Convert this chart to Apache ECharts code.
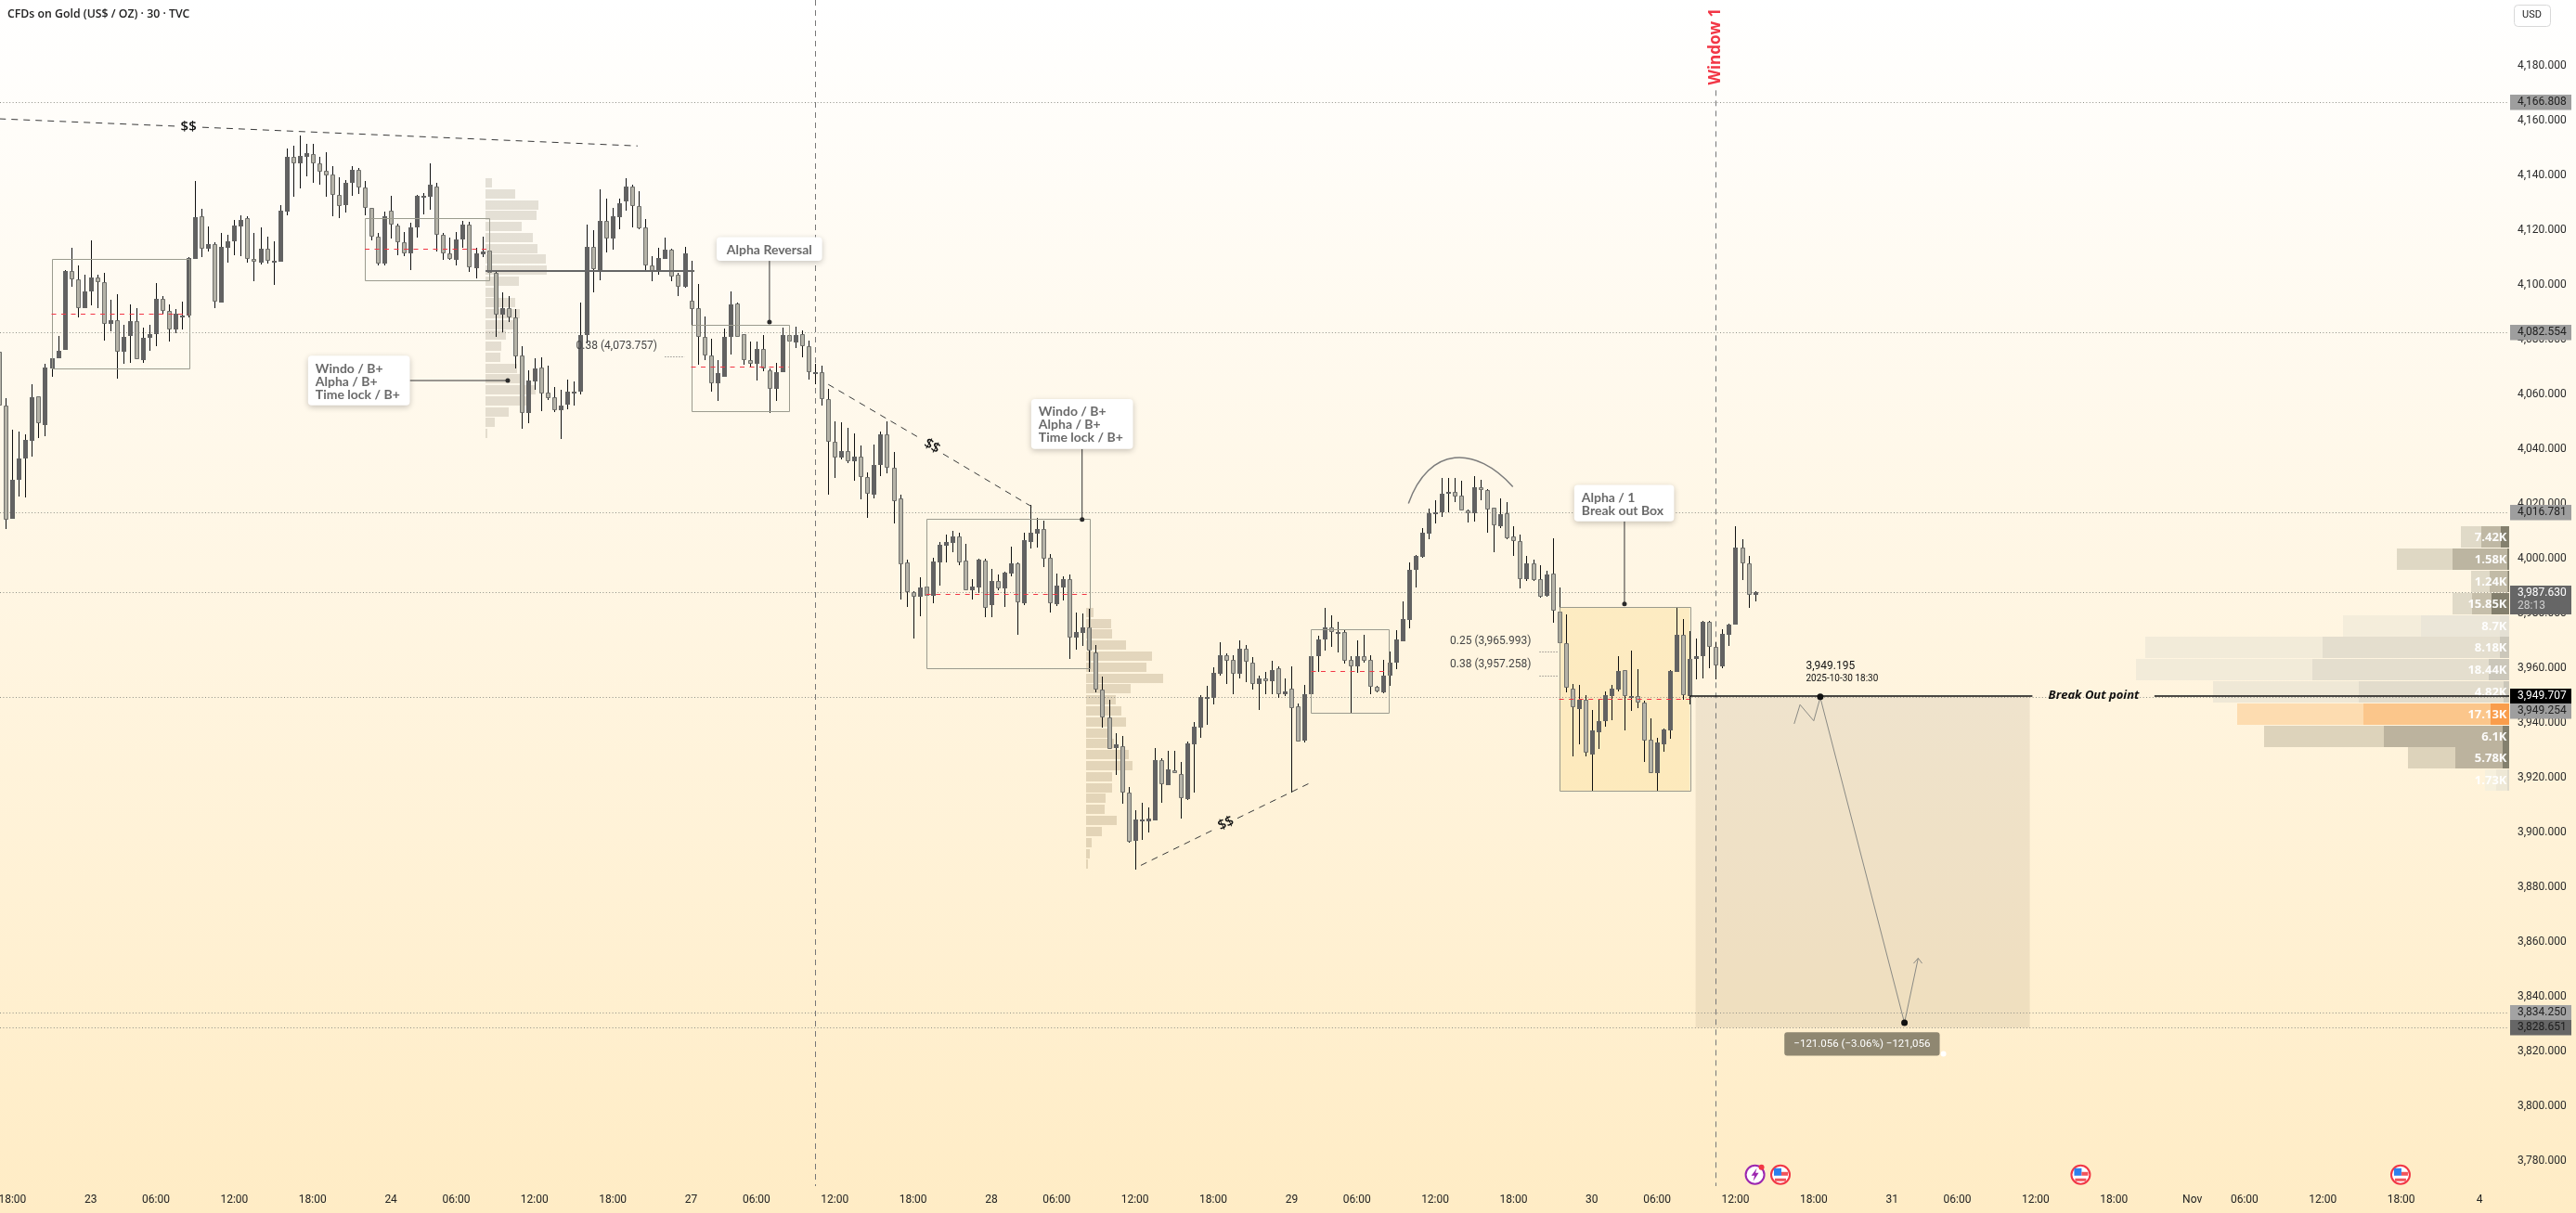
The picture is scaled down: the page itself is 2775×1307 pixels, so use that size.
<!DOCTYPE html>
<html><head><meta charset="utf-8">
<style>html,body{margin:0;padding:0;width:100%;height:100%;overflow:hidden;background:#fff}#c{width:2775px;height:1307px}</style>
<script src="https://cdn.jsdelivr.net/npm/echarts@6/dist/echarts.min.js"></script>
</head><body><div id="c"></div>
<script>
// ---- candles as [open, close, low, high], one small list per session ----
const oct22=[[4075.5,4055.7,4054.2,4077.4],[4055.7,4014.3,4010.5,4058.4],[4014.6,4028.6,4014.6,4047.1],[4028.8,4036.7,4022.6,4046.3],[4036.6,4043.2,4022.6,4045.5],[4043,4058.8,4037.3,4063.8],[4059.1,4049.3,4043.7,4059.1],[4048.8,4069.9,4044.4,4071],[4069.4,4073.3,4066.4,4078.9],[4073.2,4076,4073.2,4081.2],[4076.3,4104.9,4076.3,4105.3],[4104.9,4101.8,4099.2,4113.4],[4102.1,4091.5,4088.1,4107],[4091.5,4097.7,4091.5,4103.6]];
const oct23=[[4097.6,4102.8,4092.4,4116.2],[4102.8,4101,4091.5,4103.6],[4101.1,4085.8,4079.7,4104.5],[4085.8,4087.2,4082.9,4094.5],[4087.2,4075.6,4065.5,4096.4],[4075.6,4081.1,4071.2,4085.5],[4081.4,4086.6,4071.5,4092.8],[4086.6,4072.9,4072.7,4091.3],[4072.5,4080.5,4071.5,4084.5],[4080.7,4082.1,4075.9,4085.3],[4081.8,4094.7,4077.6,4100.6],[4095,4090.5,4089.3,4095.8],[4090.6,4083.8,4079.3,4092.7],[4083.7,4089.3,4082.3,4091.1],[4088.7,4088.9,4083.6,4093.7],[4088.7,4109.6,4088.1,4110.2],[4109.5,4124.6,4109.5,4137.9],[4124.9,4113,4110.1,4127.7],[4113.1,4115,4111.9,4121.2],[4114.7,4093.7,4091.5,4115.4],[4093.6,4113.7,4093.6,4118.9],[4113.6,4115.7,4107.8,4118.1],[4115.9,4121.6,4110.7,4123.6],[4121.4,4123.8,4110.5,4125.3],[4124.2,4109.5,4108.1,4124.9],[4109.5,4108.5,4101.4,4118.9],[4108.1,4113,4107.3,4120.9],[4113,4108.8,4107.5,4117.5],[4108.5,4108.8,4100,4115.8],[4108.5,4126.9,4108.5,4129],[4126.7,4146.7,4125.4,4149.7],[4146.6,4144.4,4132.2,4150.8],[4144.4,4147.2,4135.3,4154.5],[4146.8,4147.9,4139.5,4151.4],[4147.6,4144.4,4137,4151.4],[4144.4,4141.4,4136.5,4146.7],[4141.5,4140,4132.2,4148.4],[4140.1,4132.7,4125.1,4143.3],[4132.7,4128.8,4124.3,4139.2],[4129.2,4137.1,4126.3,4138.2],[4137.3,4142.1,4132.4,4143.4],[4142.1,4135.4,4133.1,4142.5],[4135.4,4127.9,4125.4,4137.9],[4128.2,4117.6,4116.3,4128.2],[4117.7,4107.8,4107.1,4118.9],[4107.8,4124.9,4107.1,4126.7]];
const oct24=[[4127.2,4121.8,4116.9,4132.4],[4121.5,4115.4,4110.7,4122.3],[4115.6,4111.5,4110.7,4119.4],[4111.5,4121.1,4105.4,4122.6],[4121,4132.4,4117.3,4132.8],[4132.2,4132.4,4125.7,4133.4],[4132.2,4136.4,4127.3,4144.3],[4136,4118.3,4111.9,4137.1],[4118.1,4111.3,4109.2,4118.9],[4111.3,4109.3,4109.3,4117.3],[4109.2,4116.7,4107.1,4119.4],[4116.7,4121.8,4113.3,4123.2],[4121.8,4106.4,4104.6,4122.9],[4106.1,4111.3,4102.3,4113.4],[4111.2,4112,4110.2,4117.7],[4112.3,4104.2,4101.7,4113],[4104.2,4089.2,4081,4104.7],[4089.2,4091.6,4082.7,4097.2],[4091.3,4087.9,4086.1,4095.7],[4088.1,4073.7,4069.2,4091],[4074,4053,4047.1,4077.4],[4053.3,4064.9,4049.7,4068.9],[4064.7,4069.4,4061.6,4073.1],[4069.6,4060.3,4053.9,4073.4],[4060.5,4058.6,4057.9,4070.6],[4058.8,4054.2,4053.3,4062.5],[4054.2,4056,4043.5,4061.6],[4056.3,4060.8,4054.2,4065.2],[4060.6,4060.8,4055.9,4064.7],[4060.9,4081.5,4059.9,4093.4],[4081.5,4113.8,4078.5,4121.8],[4113.7,4105.8,4097.2,4119.8],[4105.1,4123.3,4101.7,4134.8],[4123.2,4116.9,4111.9,4131.4],[4116.9,4124.9,4112.8,4128.2],[4124.7,4129.9,4120.3,4131.6],[4130.5,4136,4126.9,4138.9],[4136,4128.8,4121.2,4136.7],[4128.6,4120.7,4120.1,4134.1],[4120.8,4107.1,4105.1,4124],[4107.1,4105.1,4101.4,4110.4],[4105.1,4109.9,4103.6,4113.4],[4109.5,4112.7,4109.5,4117.2],[4112.7,4103.1,4101.6,4113.3],[4103.6,4099.1,4095.8,4104.3],[4099.2,4111.3,4098.9,4113.8]];
const oct27=[[4094.3,4091,4063.3,4108.8],[4091.5,4081.1,4070.8,4100.2],[4081.1,4074.3,4072.3,4088.4],[4074.2,4064.1,4061,4080.2],[4064.1,4067.6,4057.6,4072.4],[4066.4,4080.8,4066.4,4084],[4080.8,4092.7,4074.6,4097.5],[4093,4081.1,4081.1,4093.4],[4081.8,4072.5,4070.6,4081.9],[4072.3,4071.2,4069.7,4079.1],[4071,4076.7,4065,4079.1],[4076.7,4069.3,4068.4,4081.6],[4068.9,4062.1,4053.2,4069.5],[4062,4068.2,4057.6,4071.4],[4068.2,4081.5,4068.2,4084.2],[4081.5,4079.1,4075.9,4083.6],[4079,4081.5,4076.8,4084.7],[4081.8,4077.7,4073.4,4083.3],[4077.7,4067.9,4065.2,4079.5],[4067.9,4068.1,4063.6,4071],[4068.1,4058.1,4055.9,4070.4],[4058.1,4042.8,4023.4,4062.1],[4042.8,4036.9,4029.4,4050.1],[4036.9,4039.4,4036.2,4049.7],[4039.1,4035.4,4034.7,4047.7],[4035.6,4037.1,4028.6,4045.8],[4037.1,4029.9,4021.4,4041.2],[4029.6,4023.7,4014.9,4031.6],[4023.4,4034,4022,4041.5],[4034.2,4045.3,4029.9,4046.3],[4045.2,4033.3,4031.1,4050.1],[4033.3,4021.1,4012.8,4039],[4021.8,3998,3985,4023.4],[3998.5,3987.6,3982.3,3999.7],[3987.6,3986.1,3970.9,3988.1],[3986.1,3989.3,3978.9,3993.1],[3989.6,3986.5,3986.5,3997.8],[3986.5,3998.8,3983.6,4000.2],[3998.7,4005,3990.1,4006],[4004.8,4006,3998.5,4008.7],[4005.8,4007.9,4002.3,4010],[4007.9,3998.7,3997.5,4009.4],[3999.1,3988.5,3988.5,4005.3],[3988.5,3989.7,3985,3992.4],[3989.5,3999.6,3987.2,3999.9],[3999.4,3981.8,3978.5,3999.9]];
const oct28=[[3983.1,3991.7,3978.5,3996.2],[3991.7,3989.2,3988.1,3994],[3989.2,3994.8,3982.3,3995.2],[3994.6,3998.1,3993.6,4004.3],[3998.1,3984.1,3972.1,3998.5],[3983.6,4006.6,3983.1,4009.4],[4006.1,4009.3,4003.6,4019.5],[4009.2,4010.6,4004,4015],[4010.6,4000,3996.9,4013.8],[4000.1,3983.5,3980.2,4001.7],[3983.4,3990,3982.7,3994.4],[3989.5,3992.3,3984.6,3993.5],[3992.3,3971,3963,3994],[3971,3973,3966.7,3980.2],[3972.9,3975,3968,3979.9],[3975,3966.2,3958.5,3981.7],[3965.8,3952.2,3951.1,3968.3],[3952.2,3941.8,3937.9,3956.7],[3942,3930.4,3930.4,3948.3],[3930.9,3932,3920.9,3936.2],[3931.5,3914.4,3910.4,3935.3],[3914.4,3896.6,3895.9,3916.4],[3897,3904.5,3886.1,3907.9],[3904.3,3904.5,3897.2,3910.7],[3904.1,3904.9,3899.8,3909],[3904.4,3926.2,3904.4,3930.6],[3926.2,3917.4,3910.5,3926.9],[3917.3,3922.8,3917.3,3929.7],[3922.7,3921.5,3921.5,3929.7],[3921.1,3912.3,3905.1,3925.8],[3912.1,3932.3,3911.9,3933.3],[3932.2,3938.4,3914.5,3940.1],[3938.3,3949.3,3934.5,3950],[3949.1,3949.3,3939.3,3953.5],[3949.1,3958.1,3946.7,3960.2],[3958,3964.5,3957.1,3969.4],[3964.5,3962.7,3954.2,3965.3],[3962.8,3958,3950.4,3964.6],[3958,3966.9,3956.2,3970],[3966.9,3962.2,3954.8,3968.4],[3961.8,3954.2,3952.1,3963.9],[3954.2,3956.1,3944.6,3957.1],[3956.1,3955.3,3950.4,3958.5],[3955.3,3959.4,3950.4,3962.5],[3959.8,3950.5,3948.9,3960.5],[3950.4,3951.6,3949.7,3956.2]];
const oct29=[[3952.3,3945.4,3914.4,3960.5],[3945.9,3933.2,3933.2,3947.2],[3933.5,3950.3,3932.8,3953.8],[3950.4,3964.2,3946.7,3967.6],[3964.4,3970.3,3958.5,3971.7],[3970.3,3975,3966.3,3981.9],[3974.7,3973,3968,3979.4],[3972.9,3973.3,3965.5,3976.7],[3973.3,3962.7,3961.6,3974],[3962.8,3960.5,3943.5,3964.2],[3960.5,3964.2,3958,3970],[3964.2,3962.7,3961.9,3972],[3962.8,3953,3950.4,3964.6],[3953,3951.5,3951.1,3953.5],[3951.2,3957.1,3950.9,3963],[3957.1,3961.8,3953.5,3966],[3961.8,3970.3,3959.4,3973.8],[3969.9,3977.8,3969.9,3984.2],[3977.7,3995.7,3974.6,3998.6],[3996,4000.9,3989.5,4001.3],[4000.7,4009.4,4000.3,4011.1],[4009.2,4016.4,4006.8,4018.1],[4016.5,4016.8,4012.8,4021.2],[4016.8,4023.5,4015.3,4029.4],[4023.5,4024.2,4016.8,4029.4],[4024.2,4022.7,4020.6,4029.4],[4022.9,4017.7,4017.5,4028.3],[4017.7,4016.4,4013,4017.8],[4016.4,4025.9,4013.3,4030],[4025.9,4024.9,4021.3,4028.6],[4025.1,4018,4009.4,4025.2],[4018.5,4012,4002.1,4018.5],[4011.8,4016.2,4011.1,4022.1],[4016.4,4007.5,4007,4020.5],[4007.9,4006.2,4000.9,4011.7],[4006.2,3992.4,3989.1,4008.7],[3992.6,3998.1,3991.6,4000.8],[3998.1,3992.2,3991.6,3999.5],[3992.4,3986.1,3985.6,3997.4],[3986.5,3994,3985.9,3995.5],[3994.4,3980.8,3976.5,4007.4],[3980.7,3969,3941.6,3989.3],[3969,3952.7,3950.9,3979.5],[3952.6,3945.6,3927.5,3954],[3945.1,3948.4,3931.9,3953.7],[3948.3,3929.2,3927.5,3950]];
const oct30=[[3928.3,3937.1,3915.1,3944.7],[3936.6,3940.5,3930.5,3948.4],[3940.5,3950,3938.4,3951.4],[3949.9,3952.3,3940.7,3953.7],[3952.1,3958.8,3951.4,3964.2],[3959.1,3949.6,3937.3,3959.4],[3949.4,3949.6,3944.4,3966.4],[3949.6,3947.3,3945.5,3959.6],[3947.3,3933.4,3925.8,3948.1],[3933.7,3921.7,3921.5,3941.6],[3921.7,3932.8,3915.1,3934.5],[3932.2,3937.5,3929.4,3937.9],[3937.3,3958.8,3934.2,3959.2],[3958.7,3972,3958.5,3982.2],[3972,3950,3948.4,3977.8],[3949.7,3963.2,3946.7,3973.5],[3963.4,3964.2,3956,3970.9],[3964.4,3976.8,3956.2,3977.1],[3976.8,3967.6,3959.9,3977.1],[3967.6,3960.8,3955.6,3969.3],[3960.7,3972.3,3959.6,3974],[3972.2,3975.7,3968.2,3976.3],[3975.9,4003.9,3975.7,4011.7],[4003.9,3998.3,3992.1,4007],[3998.3,3986.6,3982,4000.9],[3986.8,3987.63,3984.5,3988.2]];
const candles=[...oct22,...oct23,...oct24,...oct27,...oct28,...oct29,...oct30];

// ---- axes ----
const priceTicks=[3780,3800,3820,3840,3860,3880,3900,3920,3940,3960,3980,4000,4020,4040,4060,4080,4100,4120,4140,4160,4180];
const timeTickIndex=[2,14,24,36,48,60,70,82,94,106,116,128,140,152,162,174,186,198,208,220,232,244,254,266,278,290,300,312,324,336,344,356,368,380];
const timeTickLabels=['18:00','23','06:00','12:00','18:00','24','06:00','12:00','18:00','27','06:00','12:00','18:00','28','06:00','12:00','18:00','29','06:00','12:00','18:00','30','06:00','12:00','18:00','31','06:00','12:00','18:00','Nov','06:00','12:00','18:00','4'];

// ---- level lines and price tags ----
const levelPrices=[4166.808,4082.554,4016.781,3987.63,3949.254,3834.25,3828.651];
const priceTagTexts=['4,166.808','4,082.554','4,016.781','3,987.630','3,949.707','3,949.254','3,834.250','3,828.651'];
const priceTagLevels=[4166.808,4082.554,4016.781,3987.63,3949.707,3949.254,3834.25,3828.651];

// ---- fixed range volume profiles ----
const profile1RowTops=[4138.9,4134.8,4130.7,4127,4122.9,4118.9,4114.8,4111,4107,4102.9,4098.9,4095.1,4091,4087,4083.3,4079.2,4075.1,4071.2,4067.3,4063.2,4059.1,4055.1,4051.3,4047.3];
const profile1Volumes=[7,32,57,55,39,51,56,65,66,36,9,32,37,35,22,17,16,34,37,54,47,25,10,2];
const profile2RowTops=[3981.9,3978,3974.1,3970,3966,3961.9,3957.9,3954.1,3950,3946,3941.9,3937.9,3934.1,3930,3926,3921.9,3917.9,3914.1,3910,3906,3901.9,3897.9,3893.8,3890.1];
const profile2Volumes=[8,27,28,43,71,65,83,48,32,38,43,24,30,46,50,28,28,21,20,33,17,6,4,2];

// ---- visible range profile at the right ----
const vrvpRowTops=[4011.9,4003.6,3995.5,3987.4,3979.2,3971.4,3963.3,3955.2,3947,3938.9,3931.1,3922.9];
const vrvpTotal=[52,121,41,61,179,392,402,319,293,264,109,26];
const vrvpMiddle=[30,61,21,40,95,201,212,162,157,135,58,14];
const vrvpInner=[9,2,1.5,19,10,10,22,6,20,7,7,2];
const vrvpLabels=['7.42K','1.58K','1.24K','15.85K','8.7K','8.18K','18.44K','4.82K','17.13K','6.1K','5.78K','1.73K'];

// ---- drawings, in [candle index, price] ----
const rangeBoxes=[[8,29,4109.3,4069.3,4089.3],[56,75,4124.2,4101.5,4113],[106,121,4085.5,4054,4070],[142,167,4014.4,3959.8,3987.2],[201,213,3974,3943.5,3958.8],[239,259,3982.2,3915.1,3948.6]];
const dashedTrends=[[[0,4160.6],[27.1,4157.9]],[[31.1,4157.5],[97.8,4150.7]],[[127,4063.6],[141,4044]],[[144.6,4038.2],[158.2,4018.9]],[[174.9,3887.9],[186.2,3901.1]],[[189.7,3905.1],[200.9,3918.1]]];
const dollarMarks=[[29,4157.8,0],[142.9,4041,-30],[187.95,3903.2,25]];
const fibTexts=[['0.38 (4,073.757)',100.8,4077.6],['0.25 (3,965.993)',234.7,3969.8],['0.38 (3,957.258)',234.7,3961.4]];
const fibTicks=[[102,105,4073.757],[236,238.8,3965.993],[236,238.8,3957.258]];
const callouts=[['Windo / B+\nAlpha / B+\nTime lock / B+',47.3,62.9,4074.1,4055.9,'left'],['Alpha Reversal',109.9,126.07,4117.4,4108.7,'center'],['Windo / B+\nAlpha / B+\nTime lock / B+',158.1,173.7,4058.2,4040,'left'],['Alpha / 1\nBreak out Box',241.3,256.6,4026.9,4013.6,'left']];
const calloutStems=[[62.9,4065,77.9,4065],[118,4108.7,118,4086.4],[165.9,4040,165.9,4014.2],[249,4013.6,249,3983.4]];
const verticalMarks=[125,263];
const arcPoints=[[215.9,4020.1],[219.1,4041.3],[226.2,4041.3],[231.9,4026.2]];
const targetZone=[259.9,311.1,3949.707,3828.651];
const breakoutSegments=[[259,311.5],[330.2,384.55]];
const breakoutLevel=3949.707;
const projectionPath=[[275,3939.6],[275.9,3946.6],[278,3940.7],[279,3949.2],[291.9,3830.4],[294,3854]];
const arrowHead=[[293.3,3852.1],[294,3854],[294.6,3852.1]];
const flagEvents=[272.9,318.9,367.9];
const lightningEvent=269;

const GREY='#6a6a6a', FONT='Roboto', PRICE_MIN=3770.75, PRICE_MAX=4204;

const chart=echarts.init(document.getElementById('c'),null,{renderer:'canvas',width:2775,height:1307});
const fmtPrice=v=>v.toLocaleString('en-US',{minimumFractionDigits:3,maximumFractionDigits:3});
const crisp=v=>Math.round(v)+0.5;
const line=(a,b,style)=>({type:'line',shape:{x1:a[0],y1:a[1],x2:b[0],y2:b[1]},style:Object.assign({fill:null},style)});
const rect=(x,y,w,h,style,r)=>({type:'rect',shape:{x,y,width:w,height:h,r:r||0},style});
const text=(x,y,t,font,fill,align,extra)=>Object.assign({type:'text',x,y,style:{text:t,font,fill,align:align||'left',verticalAlign:'middle'}},extra||{});
const dot=(p,r,fill)=>({type:'circle',shape:{cx:p[0],cy:p[1],r:r},style:{fill:fill||'#222'}});

function layer(name,rows,z,draw){
  return {type:'custom',name,silent:true,animation:false,z,clip:false,data:rows.map((_,i)=>[i+1,4000]),
    renderItem:(p,api)=>{const at=(x,y)=>api.coord([x,y]);const c=draw(rows[p.dataIndex],at,p.dataIndex);return Array.isArray(c)?{type:'group',children:c}:c;}};
}
const XMIN=0.1038, XMAX=384.55;
const series=[];

// profiles
const profile=(tops,vols,startIdx,fill)=>layer('profile',tops,2,(top,at,i)=>{
  const a=at(startIdx,top),h=at(startIdx,top-3.55)[1]-a[1];
  return rect(Math.round(a[0]),Math.round(a[1]),vols[i],Math.round(h),{fill});
});
series.push(profile(profile1RowTops,profile1Volumes,74.5,'rgba(150,143,122,0.26)'));
series.push(profile(profile2RowTops,profile2Volumes,166.5,'rgba(150,133,95,0.27)'));

// target zone and orange range fill
series.push(layer('target',[targetZone],2,(t,at)=>{
  const a=at(t[0],t[2]),b=at(t[1],t[3]);
  return rect(a[0],a[1],b[0]-a[0],b[1]-a[1],{fill:'rgba(120,108,85,0.12)'});
}));
series.push(layer('breakoutBoxFill',[rangeBoxes[5]],2,(b,at)=>{
  const p=at(b[0],b[2]),q=at(b[1],b[3]);
  return rect(p[0],p[1],q[0]-p[0],q[1]-p[1],{fill:'rgba(250,215,130,0.33)'});
}));

// right hand visible range profile
const vrvpColors=[['#e0dac8','#bfb8a4','#84806e'],['#dfd8c4','#bcb5a1','#84806e'],['#e0dac8','#c2bba7','#84806e'],['#e0dac8','#c6bfab','#84806e'],['#f4eddb','#ebe6d8','#e4e0d4'],['#f2ebd9','#e4dece','#cbc7ba'],['#f2ebd9','#e4dece','#cbc7ba'],['#efe8d6','#e2dccc','#cbc7ba'],['#fddcb0','#fbc68b','#f99d4c'],['#ddd3bb','#bcb39e','#84806e'],['#ddd3bb','#bcb39e','#84806e'],['#f6f0dd','#eee8d6','#dfdbcc']];
series.push(layer('vrvp',vrvpRowTops,3,(top,at,i)=>{
  const right=at(XMAX,top)[0], y=Math.round(at(XMAX,top)[1]), h=23;
  const c=vrvpColors[i];
  return [
    rect(right-vrvpTotal[i],y,vrvpTotal[i],h,{fill:c[0]}),
    rect(right-vrvpMiddle[i],y,vrvpMiddle[i],h,{fill:c[1]}),
    rect(right-vrvpInner[i],y,vrvpInner[i],h,{fill:c[2]}),
    text(right-2.5,y+12,vrvpLabels[i],'700 13px "Open Sans"','rgba(255,255,255,0.95)','right')
  ];
}));

// horizontal dotted levels
series.push(layer('levels',levelPrices,4,(p,at)=>{
  const y=crisp(at(XMIN,p)[1]);
  return line([0,y],[at(XMAX,p)[0],y],{stroke:'#8f8f86',lineWidth:1,lineDash:[1,2.4]});
}));

// vertical dashed markers
series.push(layer('vertical',verticalMarks,4,(i,at,n)=>{
  const x=crisp(at(i,4000)[0]);
  const top=n===0?0:at(i,4171)[1];
  return line([x,top],[x,at(i,PRICE_MIN)[1]],{stroke:'#777',lineWidth:1,lineDash:[6,5]});
}));

// candles
series.push({type:'custom',name:'CFDs on Gold',silent:true,animation:false,z:5,clip:true,
  encode:{x:0,y:[1,2,3,4]},
  data:candles.map((c,i)=>[i,c[0],c[1],c[2],c[3]]),
  renderItem:(p,api)=>{
    const i=api.value(0),o=api.value(1),cl=api.value(2),lo=api.value(3),hi=api.value(4);
    const x=Math.round(api.coord([i,o])[0]);
    const yo=api.coord([i,o])[1],yc=api.coord([i,cl])[1],yl=api.coord([i,lo])[1],yh=api.coord([i,hi])[1];
    const up=cl>=o, top=Math.round(Math.min(yo,yc)), bot=Math.max(top+2,Math.round(Math.max(yo,yc)));
    const kids=[rect(x,Math.round(yh),1,Math.max(1,Math.round(yl-yh)),{fill:'#111'})];
    if(up) kids.push(rect(x-2,top,5,bot-top,{fill:'#626262'}));
    else kids.push(rect(x-1.5,top+0.5,4,Math.max(1,bot-top-1),{fill:'#b5b3a8',stroke:'#6e6e6a',lineWidth:1}));
    return {type:'group',children:kids};
  }});

// range boxes with red midlines
series.push(layer('boxes',rangeBoxes,6,(b,at)=>{
  const p=at(b[0],b[2]),q=at(b[1],b[3]),m=at(b[0],b[4]),n=at(b[1],b[4]);
  return [
    rect(crisp(p[0]),crisp(p[1]),Math.round(q[0]-p[0]),Math.round(q[1]-p[1]),{fill:null,stroke:'#9b9b8e',lineWidth:1}),
    line([p[0],crisp(m[1])],[n[0],crisp(m[1])],{stroke:'#f23645',lineWidth:1,lineDash:[5,5.5]})
  ];
}));

// thick level inside first profile
series.push(layer('pocLine',[[74.5,106.5,4105]],6,(l,at)=>line(at(l[0],l[2]),at(l[1],l[2]),{stroke:'#666',lineWidth:2})));

// dashed trend lines and their $$ marks
series.push(layer('trends',dashedTrends,6,(s,at)=>line(at(s[0][0],s[0][1]),at(s[1][0],s[1][1]),{stroke:'#3a3a3a',lineWidth:1,lineDash:[7,6]})));
series.push(layer('dollars',dollarMarks,7,(d,at)=>{
  const a=at(d[0],d[1]);
  return text(a[0],a[1],'$$','600 15px "Open Sans"','#111','center',{rotation:d[2]*Math.PI/180});
}));

// fib texts
series.push(layer('fibTicks',fibTicks,6,(f,at)=>{
  const y=crisp(at(f[0],f[2])[1]);
  return line([at(f[0],f[2])[0],y],[at(f[1],f[2])[0],y],{stroke:'#666',lineWidth:1,lineDash:[1,2]});
}));
series.push(layer('fibTexts',fibTexts,7,(f,at)=>{
  const a=at(f[1],f[2]);
  return text(a[0],a[1],f[0],'12px Roboto','#454545','right');
}));

// arc over the top
series.push(layer('arc',[arcPoints],6,(c,at)=>{
  const s=at(c[0][0],c[0][1]),p=at(c[1][0],c[1][1]),q=at(c[2][0],c[2][1]),e=at(c[3][0],c[3][1]);
  return {type:'bezierCurve',shape:{x1:s[0],y1:s[1],cpx1:p[0],cpy1:p[1],cpx2:q[0],cpy2:q[1],x2:e[0],y2:e[1]},style:{fill:null,stroke:'#7c7c7c',lineWidth:1.5}};
}));

// callouts
series.push(layer('stems',calloutStems,7,(s,at)=>[
  line(at(s[0],s[1]),at(s[2],s[3]),{stroke:'#333',lineWidth:1}),
  dot(at(s[2],s[3]),2.5,'#2a2a2a')
]));
series.push(layer('callouts',callouts,8,(c,at)=>{
  const a=at(c[1],c[3]),b=at(c[2],c[4]);
  const cx=c[5]==='center'?(a[0]+b[0])/2:a[0]+8;
  return [
    {type:'rect',shape:{x:a[0],y:a[1],width:b[0]-a[0],height:b[1]-a[1],r:4},style:{fill:'#fff',shadowBlur:6,shadowOffsetY:2,shadowColor:'rgba(0,0,0,0.22)'}},
    {type:'text',x:cx,y:(a[1]+b[1])/2+1,style:{text:c[0],font:'700 14px Lato',lineHeight:14,fill:GREY,align:c[5],verticalAlign:'middle'}}
  ];
}));

// breakout line, projection
series.push(layer('breakout',breakoutSegments,7,(s,at)=>line(at(s[0],breakoutLevel),at(s[1],breakoutLevel),{stroke:'#111',lineWidth:1.5})));
series.push(layer('projection',[projectionPath],7,(path,at)=>({type:'polyline',shape:{points:path.map(p=>at(p[0],p[1]))},style:{fill:null,stroke:'#8a8a84',lineWidth:1}})));
series.push(layer('arrow',[arrowHead],7,(path,at)=>({type:'polyline',shape:{points:path.map(p=>at(p[0],p[1]))},style:{fill:null,stroke:'#8a8a84',lineWidth:1}})));
series.push(layer('markers',[[279,3949.5],[291.9,3830.4]],8,(d,at)=>dot(at(d[0],d[1]),3.5,'#111')));
series.push(layer('breakoutTexts',[['3,949.195',276.8,3960.6,'12px Roboto'],['2025-10-30 18:30',276.8,3955.9,'10px Roboto'],['Break Out point',313.95,3949.9,'italic 700 13px "Open Sans"']],8,(t,at)=>{
  const a=at(t[1],t[2]);return text(a[0],a[1],t[0],t[3],'#111','left');
}));
series.push(layer('measure',[[273.5,297.3,3826.9,3818.4]],8,(b,at)=>{
  const p=at(b[0],b[2]),q=at(b[1],b[3]);
  return [
    rect(p[0],p[1],q[0]-p[0],q[1]-p[1],{fill:'#8f8771'},3),
    text((p[0]+q[0])/2,(p[1]+q[1])/2,'\u2212121.056 (\u22123.06%) \u2212121,056','11.5px Roboto','#fff','center'),
    {type:'circle',shape:{cx:q[0]+4,cy:q[1]-2,r:3},style:{fill:'#fff'}}
  ];
}));

// window label
series.push(layer('windowLabel',[[262.9,4187]],8,(w,at)=>{
  const a=at(w[0],w[1]);
  return text(a[0],a[1],'Window 1','700 17px "Open Sans"','#f23645','center',{rotation:Math.PI/2});
}));

// event icons
series.push(layer('flags',flagEvents,8,(i,at)=>{
  const a=at(i,3774.9),x=a[0],y=a[1];
  return [
    {type:'circle',shape:{cx:x,cy:y,r:10},style:{fill:'#fff',stroke:'#f23645',lineWidth:2}},
    rect(x-7,y-7,8,8,{fill:'#2f80ed'}),
    rect(x+1,y-3,7,4,{fill:'#f2545b'}),
    rect(x-6,y+4,12,3,{fill:'#f2545b'})
  ];
}));
series.push(layer('lightning',[lightningEvent],8,(i,at)=>{
  const a=at(i,3774.9),x=a[0],y=a[1];
  return [
    {type:'circle',shape:{cx:x,cy:y,r:10},style:{fill:'#fff',stroke:'#9c27b0',lineWidth:2}},
    {type:'polygon',shape:{points:[[x+2,y-7],[x-4,y+1],[x-0.5,y+1],[x-2,y+7],[x+4,y-2],[x+0.5,y-2]]},style:{fill:'#9c27b0'}},
    {type:'circle',shape:{cx:x+7,cy:y-8,r:3},style:{fill:'#f23645'}}
  ];
}));

// price tags on the axis
const tagStyles=[['#9e9e9e','#222',0],['#9e9e9e','#222',0],['#9e9e9e','#222',0],['#666','#fff',0],['#000','#fff',0],['#9e9e9e','#222',15],['#a3a3a3','#222',0],['#666','#1c1c1c',0]];
series.push(layer('priceTags',priceTagLevels,9,(p,at,i)=>{
  const st=tagStyles[i], a=at(XMAX,p), x=Math.round(a[0])+1, y=Math.round(a[1])+st[2];
  const kids=[];
  if(i===3){
    kids.push(rect(x,y-7,66,31,{fill:st[0]}));
    kids.push(text(x+8,y+1,priceTagTexts[i],'12px Roboto',st[1]));
    kids.push(text(x+8,y+15,'28:13','12px Roboto','#d0d0d0'));
  } else {
    kids.push(rect(x,y-8,66,16.5,{fill:st[0]}));
    kids.push(text(x+8,y,priceTagTexts[i],'12px Roboto',st[1]));
  }
  return kids;
}));

chart.setOption({
  animation:false,
  backgroundColor:new echarts.graphic.LinearGradient(0,0,0,1,[{offset:0,color:'#ffffff'},{offset:1,color:'#ffecc5'}]),
  title:{text:'CFDs on Gold (US$ / OZ) \u00b7 30 \u00b7 TVC',left:8,top:9,padding:0,textStyle:{fontFamily:'Open Sans',fontWeight:600,fontSize:12.3,color:'#222'}},
  grid:{left:0,right:72,top:0,bottom:29,containLabel:false,outerBoundsMode:'none'},
  xAxis:{type:'value',min:XMIN,max:XMAX,splitLine:{show:false},axisLine:{show:false},axisTick:{show:false},
    axisLabel:{customValues:timeTickIndex,margin:9,color:'#222',fontFamily:FONT,fontSize:12,
      formatter:v=>timeTickLabels[timeTickIndex.indexOf(v)]||''}},
  yAxis:{type:'value',position:'right',min:PRICE_MIN,max:PRICE_MAX,splitLine:{show:false},axisLine:{show:false},axisTick:{show:false},
    axisLabel:{customValues:priceTicks,margin:9,color:'#2a2a2a',fontFamily:FONT,fontSize:12,formatter:v=>fmtPrice(v)}},
  graphic:[
    {type:'rect',left:2708,top:5,z:20,shape:{width:39,height:23,r:4},style:{fill:'#fff',stroke:'#d8d8d8',lineWidth:1}},
    {type:'text',left:2717,top:11,z:21,style:{text:'USD',font:'11px Roboto',fill:'#222'}}
  ],
  series
});
</script></body></html>
